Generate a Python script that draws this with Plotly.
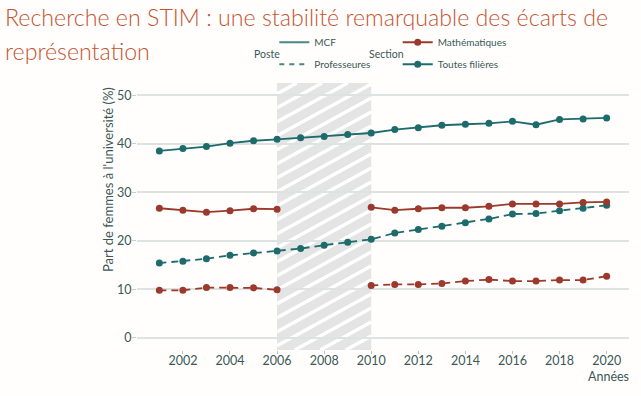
import plotly.graph_objects as go

# ---------------- data ----------------
years = list(range(2001, 2021))
toutes_mcf = [38.5, 39.0, 39.4, 40.1, 40.6, 40.9, 41.2, 41.5, 41.9, 42.2,
              42.9, 43.3, 43.8, 44.0, 44.2, 44.6, 43.9, 45.0, 45.1, 45.3]
toutes_prof = [15.4, 15.8, 16.3, 17.0, 17.5, 17.9, 18.4, 19.1, 19.7, 20.3,
               21.6, 22.3, 23.0, 23.7, 24.5, 25.5, 25.6, 26.2, 26.7, 27.3]
maths_mcf = [26.7, 26.3, 25.9, 26.2, 26.6, 26.5, None, None, None, 26.9,
             26.3, 26.6, 26.8, 26.8, 27.1, 27.6, 27.55, 27.6, 27.9, 28.0]
maths_prof = [9.8, 9.8, 10.35, 10.35, 10.3, 9.9, None, None, None, 10.8,
              11.0, 11.0, 11.2, 11.7, 12.0, 11.7, 11.7, 11.9, 11.9, 12.7]
gap_start, gap_end = 2006, 2010
y_ticks = [0, 10, 20, 30, 40, 50]
x_ticks = [2002, 2004, 2006, 2008, 2010, 2012, 2014, 2016, 2018, 2020]

title_l1 = "Recherche en STIM : une stabilité remarquable des écarts de"
title_l2 = "représentation"
y_title = "Part de femmes à l'université (%)"
x_title = "Années"

# ---------------- styles ----------------
TEAL = "#1d6b6b"
RED = "#9b3a2c"
LEG_LINE = "#4b8784"
TXT = "#3a5857"
GRID = "#dde3e2"
TITLE_C = "#c4542f"
FONT = "Lato, 'Open Sans', sans-serif"
BG = "#fffefd"

W, H = 641, 396
ML, MR, MT, MB = 137, 12, 83, 46
PW, PH = W - ML - MR, H - MT - MB


def px(xp):
    return (xp - ML) / PW


def py(yp):
    return (H - MB - yp) / PH


fig = go.Figure()

series = [
    (toutes_mcf, TEAL, "solid"),
    (toutes_prof, TEAL, "7px,5px"),
    (maths_mcf, RED, "solid"),
    (maths_prof, RED, "7px,5px"),
]
for vals, col, dash in series:
    fig.add_trace(go.Scatter(
        x=years, y=vals, mode="lines+markers", connectgaps=False,
        line=dict(color=col, width=1.8, dash=dash),
        marker=dict(color=col, size=7),
        showlegend=False, hoverinfo="skip"))

# legend dummy traces, one legend each for exact placement
leg_items = [
    ("MCF", LEG_LINE, "solid", "lines", "legend"),
    ("Professeures", LEG_LINE, "5px,5px", "lines", "legend2"),
    ("Mathématiques", RED, "solid", "lines+markers", "legend3"),
    ("Toutes filières", TEAL, "solid", "lines+markers", "legend4"),
]
for name, col, dash, mode, lg in leg_items:
    fig.add_trace(go.Scatter(
        x=[None], y=[None], mode=mode, name=name,
        line=dict(color=col, width=2, dash=dash),
        marker=dict(color=col, size=7),
        legend=lg, showlegend=True))

leg_font = dict(family=FONT, size=10, color=TXT)
grp_font = dict(family=FONT, size=10.5, color=TXT)
y1, y2 = py(42.3), py(64.3)
xa, xb = px(314.3 - 40), px(437.7 - 40)
for lg, xx, yy in [("legend", xa, y1), ("legend2", xa, y2),
                   ("legend3", xb, y1), ("legend4", xb, y2)]:
    fig.update_layout({lg: dict(x=xx, y=yy, xanchor="left", yanchor="middle",
                                bgcolor="rgba(0,0,0,0)", font=leg_font,
                                borderwidth=0, itemwidth=30)})

# hatched period
shapes = [dict(type="rect", xref="x", yref="paper", x0=gap_start, x1=gap_end,
               y0=0, y1=1, fillcolor="#e4e4e4", line=dict(width=0),
               layer="between")]
rw = (gap_end - gap_start) * PW / 20.9
slope = 0.55
period = 14.0
off = -slope * rw
while off < PH:
    xs0 = max(0.0, -off / slope)
    xs1 = min(rw, (PH - off) / slope)
    if xs1 > xs0:
        ya0 = off + slope * xs0
        ya1 = off + slope * xs1
        shapes.append(dict(
            type="line", xref="x", yref="paper",
            x0=gap_start + xs0 / rw * (gap_end - gap_start),
            x1=gap_start + xs1 / rw * (gap_end - gap_start),
            y0=ya0 / PH, y1=ya1 / PH,
            line=dict(color="white", width=3.5), layer="between"))
    off += period

title_font = dict(family=FONT, size=23.2, color=TITLE_C, weight=300)
annotations = [
    dict(text=title_l1, xref="paper", yref="paper", x=px(3), y=py(17),
         xanchor="left", yanchor="middle", showarrow=False, font=title_font),
    dict(text=title_l2, xref="paper", yref="paper", x=px(3), y=py(51),
         xanchor="left", yanchor="middle", showarrow=False, font=title_font),
    dict(text="Poste", xref="paper", yref="paper", x=px(282), y=py(53.5),
         xanchor="right", yanchor="middle", showarrow=False, font=grp_font),
    dict(text="Section", xref="paper", yref="paper", x=px(406), y=py(53.5),
         xanchor="right", yanchor="middle", showarrow=False, font=grp_font),
    dict(text=y_title, xref="paper", yref="paper", x=px(108), y=py(180),
         xanchor="center", yanchor="middle", textangle=-90, showarrow=False,
         font=dict(family=FONT, size=13, color=TXT)),
    dict(text=x_title, xref="paper", yref="paper", x=1, y=py(376),
         xanchor="right", yanchor="middle", showarrow=False, xshift=2,
         font=dict(family=FONT, size=12.5, color=TXT)),
]

fig.update_layout(
    width=W, height=H,
    margin=dict(l=ML, r=MR, t=MT, b=MB, pad=0, autoexpand=False),
    paper_bgcolor=BG, plot_bgcolor=BG,
    shapes=shapes, annotations=annotations,
    xaxis=dict(range=[2000.05, 2020.95], tickvals=x_ticks, showgrid=False,
               zeroline=False, showline=False, ticks="outside", ticklen=3,
               tickcolor="#b8c4c3", tickwidth=1, automargin=False,
               ticklabelstandoff=-4,
               tickfont=dict(family=FONT, size=12.5, color=TXT)),
    yaxis=dict(range=[-2.5, 52.5], tickvals=y_ticks, showgrid=True,
               gridcolor=GRID, gridwidth=1.5, zeroline=False, showline=False,
               ticks="outside", ticklen=4, tickcolor="#c8d0cf",
               automargin=False, ticklabelstandoff=-2,
               tickfont=dict(family=FONT, size=12.5, color=TXT)),
    hovermode=False,
)

fig.write_html("out.html",
               config={"displayModeBar": False},
               post_script="document.body.style.margin='0';"
                           "document.body.style.overflow='hidden';")
